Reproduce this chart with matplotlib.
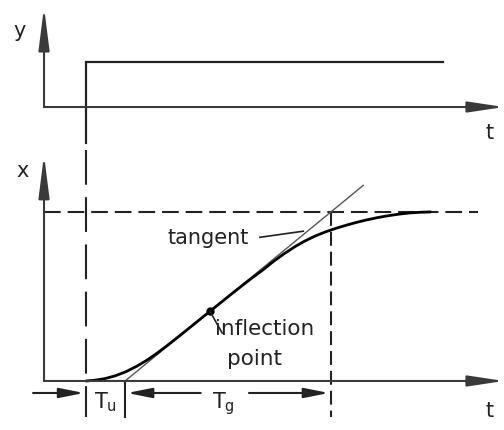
"""Step response of a delayed plant: tangent construction for Tu and Tg."""

import matplotlib
matplotlib.use("Agg")
import matplotlib.pyplot as plt

plt.rcParams["font.family"] = ["DejaVu Sans"]
plt.rcParams["lines.scale_dashes"] = False

INK = "#222222"
AXIS = "#3a3a3a"

# time axis (shared by both panels)
t_step = 1.0
t_u_end = 1.93        # tangent meets x = 0
t_g_end = 6.83        # tangent meets x = 1
t_tangent_top = 7.60
t_input_end = 9.5
t_axis_end = 10.95

# step input y(t)
y_step_low = -0.8
y_step_high = 1.0

# measured response x(t)
resp_t = [1.0, 1.2, 1.45, 1.7, 1.95, 2.2, 2.45, 2.7, 2.95, 3.2, 3.45, 3.7, 3.95,
          4.2, 4.45, 4.7, 4.95, 5.2, 5.45, 5.7, 5.95, 6.2, 6.45, 6.7, 6.95,
          7.2, 7.45, 7.7, 7.95, 8.2, 8.45, 8.7, 8.95, 9.2]
resp_x = [0.0, 0.004, 0.014, 0.031, 0.055, 0.086, 0.123, 0.166, 0.213, 0.262,
          0.312, 0.362, 0.412, 0.462, 0.512, 0.561, 0.609, 0.655, 0.705, 0.750,
          0.791, 0.827, 0.857, 0.882, 0.903, 0.922, 0.939, 0.954, 0.967, 0.978,
          0.987, 0.994, 0.998, 1.0]

# inflection point and tangent
ip_t, ip_x = 3.95, 0.412
tangent_t = [t_u_end, t_tangent_top]
tangent_x = [0.0, (t_tangent_top - t_u_end) / (t_g_end - t_u_end)]
x_final = 1.0

fig = plt.figure(figsize=(5.04, 4.30), dpi=100)
ax_y = fig.add_axes([0, 285 / 430, 1, 145 / 430])
ax_x = fig.add_axes([0, 0, 1, 285 / 430])
for ax in (ax_y, ax_x):
    ax.set_xlim(-1.048, t_axis_end)
    ax.axis("off")
ax_y.set_ylim(-0.844, 2.378)
ax_x.set_ylim(-0.290, 1.396)


def axis_arrow(ax, start, end, head=(26, 3.3)):
    ax.annotate("", xy=end, xytext=start,
                arrowprops=dict(arrowstyle=f"-|>,head_length={head[0]},head_width={head[1]}",
                                color=AXIS, lw=1.5, shrinkA=0, shrinkB=0,
                                mutation_scale=1), annotation_clip=False)


# --- input panel ---
axis_arrow(ax_y, (0, 0), (0, 2.22))
axis_arrow(ax_y, (0, 0), (t_axis_end, 0), head=(22, 3.3))
ax_y.plot([t_step, t_step, t_input_end], [y_step_low, y_step_high, y_step_high],
          color=INK, lw=1.6, solid_joinstyle="miter", clip_on=False)
ax_y.text(-0.57, 1.69, "y", fontsize=15, color=INK, ha="center", va="center")
ax_y.text(10.6, -0.58, "t", fontsize=15, color=INK, ha="center", va="center")

# --- response panel ---
axis_arrow(ax_x, (0, 0), (0, 1.337))
axis_arrow(ax_x, (0, 0), (t_axis_end, 0), head=(22, 3.3))
ax_x.text(-0.52, 1.24, "x", fontsize=15, color=INK, ha="center", va="center")
ax_x.text(10.6, -0.175, "t", fontsize=15, color=INK, ha="center", va="center")

# dashed guides
ax_x.plot([t_step, t_step], [1.367, -0.213], color=INK, lw=1.5,
          dashes=(25, 9), clip_on=False)
ax_x.plot([0, 10.33], [x_final, x_final], color=INK, lw=1.5, dashes=(12, 5))
ax_x.plot([t_g_end, t_g_end], [x_final, -0.213], color=INK, lw=1.5, dashes=(10, 4.3))
ax_x.plot([t_u_end, t_u_end], [0, -0.213], color=INK, lw=1.5)

# response curve, tangent and inflection point
ax_x.plot(tangent_t, tangent_x, color="#555555", lw=1.0)
ax_x.plot(resp_t, resp_x, color="black", lw=2.0, solid_capstyle="round",
          solid_joinstyle="round")
ax_x.plot([ip_t], [ip_x], "o", color="black", ms=5)

# labels
ax_x.text(2.93, 0.81, "tangent", fontsize=15, color=INK, ha="left", va="baseline")
ax_x.plot([5.14, 6.17], [0.85, 0.886], color=INK, lw=1.2)
ax_x.plot([ip_t, 4.24], [ip_x, 0.284], color=INK, lw=1.2)
ax_x.text(4.07, 0.272, "inflection", fontsize=15.5, color=INK, ha="left", va="baseline")
ax_x.text(4.36, 0.095, "point", fontsize=15.5, color=INK, ha="left", va="baseline")

# Tu and Tg dimension arrows
dim_y = -0.071
dim_style = dict(arrowstyle="-|>,head_length=15,head_width=3.0", color=INK, lw=1.5,
                 shrinkA=0, shrinkB=1.5, mutation_scale=1)
ax_x.annotate("", xy=(t_step, dim_y), xytext=(-0.26, dim_y), arrowprops=dim_style)
tg_mid = 0.5 * (t_u_end + t_g_end) - 0.1
ax_x.annotate("", xy=(t_u_end, dim_y), xytext=(tg_mid - 0.55, dim_y), arrowprops=dim_style)
ax_x.annotate("", xy=(t_g_end, dim_y), xytext=(tg_mid + 0.6, dim_y), arrowprops=dim_style)
ax_x.text(0.5 * (t_step + t_u_end), -0.160, r"$\mathregular{T_u}$", fontsize=15,
          color=INK, ha="center", va="baseline")
ax_x.text(tg_mid, -0.160, r"$\mathregular{T_g}$", fontsize=15,
          color=INK, ha="center", va="baseline")

fig.savefig("out.png", dpi=100, facecolor="white")
